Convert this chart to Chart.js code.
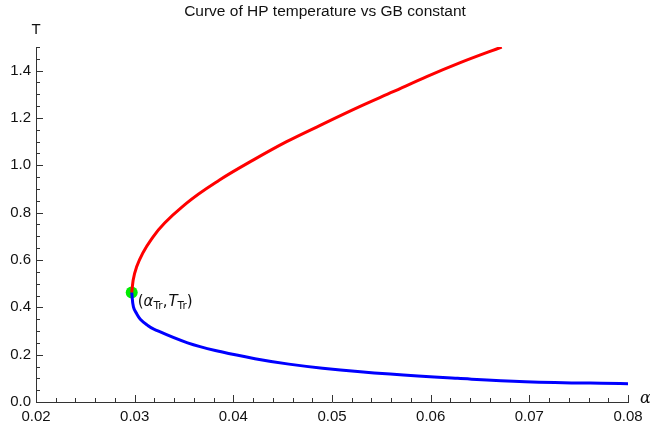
<!DOCTYPE html>
<html>
<head>
<meta charset="utf-8">
<script src="https://cdn.jsdelivr.net/npm/chart.js@4/dist/chart.umd.min.js"></script>
<style>
  html, body { margin: 0; padding: 0; background: #fff; }
  #wrap { width: 650px; height: 432px; }
</style>
</head>
<body>
<div id="wrap"><canvas id="hpChart"></canvas></div>
<script>
const chartTitle = 'Curve of HP temperature vs GB constant';

// upper (red) branch
const upperAlpha = [0.0297, 0.02985, 0.0302, 0.03185, 0.0353, 0.0386, 0.0420, 0.0454, 0.0488, 0.0528, 0.0562, 0.0596, 0.0630, 0.0672];
const upperT     = [0.463, 0.515, 0.571, 0.697, 0.841, 0.938, 1.022, 1.100, 1.169, 1.248, 1.311, 1.375, 1.434, 1.500];

// lower (blue) branch
const lowerAlpha = [0.0297, 0.02988, 0.03022, 0.03057, 0.03125, 0.03194, 0.03536, 0.03878, 0.04219, 0.04563, 0.04905, 0.0559, 0.06274, 0.06958, 0.080];
const lowerT     = [0.463, 0.401, 0.372, 0.350, 0.326, 0.308, 0.250, 0.212, 0.183, 0.160, 0.143, 0.118, 0.100, 0.086, 0.077];

// triple point
const trAlpha = [0.0297];
const trT = [0.463];

// ticks
const xTicks = [0.02, 0.03, 0.04, 0.05, 0.06, 0.07, 0.08];
const yTicks = [0.0, 0.2, 0.4, 0.6, 0.8, 1.0, 1.2, 1.4];
const xMinorStep = 0.002;
const yMinorStep = 0.05;

const toPoints = (xs, ys) => xs.map((x, i) => ({ x: x, y: ys[i] }));

// title, inward ticks, axis names and the point label (Mathematica style)
const extras = {
  id: 'extras',
  afterDraw(chart) {
    const c = chart.ctx;
    const xs = chart.scales.x, ys = chart.scales.y;
    const x0 = xs.left, y0 = ys.bottom;
    c.save();
    c.strokeStyle = '#333';
    c.lineWidth = 1;
    c.beginPath();
    // x ticks
    for (let v = 0.02; v <= 0.0801; v += xMinorStep) {
      const px = Math.round(xs.getPixelForValue(v)) + 0.5;
      const major = xTicks.some(t => Math.abs(t - v) < 1e-6);
      c.moveTo(px, y0);
      c.lineTo(px, y0 - (major ? 7 : 4));
    }
    // y ticks
    for (let v = 0; v <= 1.5001; v += yMinorStep) {
      const py = Math.round(ys.getPixelForValue(v)) + 0.5;
      const major = yTicks.some(t => Math.abs(t - v) < 1e-6);
      c.moveTo(x0, py);
      c.lineTo(x0 + (major ? 7 : 4), py);
    }
    c.stroke();

    c.fillStyle = '#111';
    // title
    c.font = '15.5px "Liberation Sans", Arial, sans-serif';
    c.textAlign = 'center';
    c.textBaseline = 'middle';
    c.fillText(chartTitle, chart.width / 2, 12);

    // axis names
    c.font = '15px "Liberation Sans", Arial, sans-serif';
    c.fillText('T', x0, ys.top - 17);
    c.font = 'italic 16px "DejaVu Serif", serif';
    c.textAlign = 'left';
    c.fillText('α', xs.right + 12, y0 - 3);

    // label (αTr, TTr)
    const lx = xs.getPixelForValue(trAlpha[0]) + 6;
    const ly = ys.getPixelForValue(trT[0]) + 13.5;
    c.textBaseline = 'alphabetic';
    const big = '15px "DejaVu Sans", sans-serif';
    const bigI = 'italic 15px "DejaVu Sans", sans-serif';
    const sub = '10.5px "DejaVu Sans", sans-serif';
    let cx = lx;
    const part = (txt, font, dy) => {
      c.font = font;
      c.fillText(txt, cx, ly + dy);
      cx += c.measureText(txt).width;
    };
    part('(', big, 0);
    part('α', bigI, 0);
    part('Tr', sub, 3);
    part(',', big, 0);
    cx += 1;
    part('T', bigI, 0);
    part('Tr', sub, 3);
    part(')', big, 0);
    c.restore();
  }
};

new Chart(document.getElementById('hpChart'), {
  type: 'scatter',
  data: {
    datasets: [
      {
        label: 'upper',
        data: toPoints(upperAlpha, upperT),
        showLine: true,
        borderColor: '#ff0000',
        borderWidth: 3,
        pointRadius: 0,
        cubicInterpolationMode: 'monotone'
      },
      {
        label: 'lower',
        data: toPoints(lowerAlpha, lowerT),
        showLine: true,
        borderColor: '#0000ff',
        borderWidth: 3,
        pointRadius: 0,
        tension: 0.4
      },
      {
        label: 'triple point',
        data: toPoints(trAlpha, trT),
        pointRadius: 6,
        pointBackgroundColor: 'rgb(0,235,0)',
        pointBorderWidth: 0
      }
    ]
  },
  options: {
    responsive: true,
    maintainAspectRatio: false,
    animation: false,
    layout: { padding: { top: 47, right: 22, bottom: 0, left: 0 } },
    plugins: {
      legend: { display: false },
      tooltip: { enabled: false },
      title: { display: false }
    },
    scales: {
      x: {
        type: 'linear',
        min: 0.02,
        max: 0.08,
        afterFit: s => { s.height = 30; },
        afterBuildTicks: s => { s.ticks = xTicks.map(v => ({ value: v })); },
        grid: { drawOnChartArea: false, drawTicks: false },
        border: { color: '#333', width: 1 },
        ticks: {
          color: '#111',
          padding: 6,
          maxRotation: 0,
          font: { family: '"Liberation Sans", Arial, sans-serif', size: 15 },
          callback: v => v.toFixed(2)
        }
      },
      y: {
        type: 'linear',
        min: 0,
        max: 1.5,
        afterFit: s => { s.width = 36; },
        afterBuildTicks: s => { s.ticks = yTicks.map(v => ({ value: v })); },
        grid: { drawOnChartArea: false, drawTicks: false },
        border: { color: '#333', width: 1 },
        ticks: {
          color: '#111',
          padding: 5,
          font: { family: '"Liberation Sans", Arial, sans-serif', size: 15 },
          callback: v => v.toFixed(1)
        }
      }
    }
  },
  plugins: [extras]
});
</script>
</body>
</html>
